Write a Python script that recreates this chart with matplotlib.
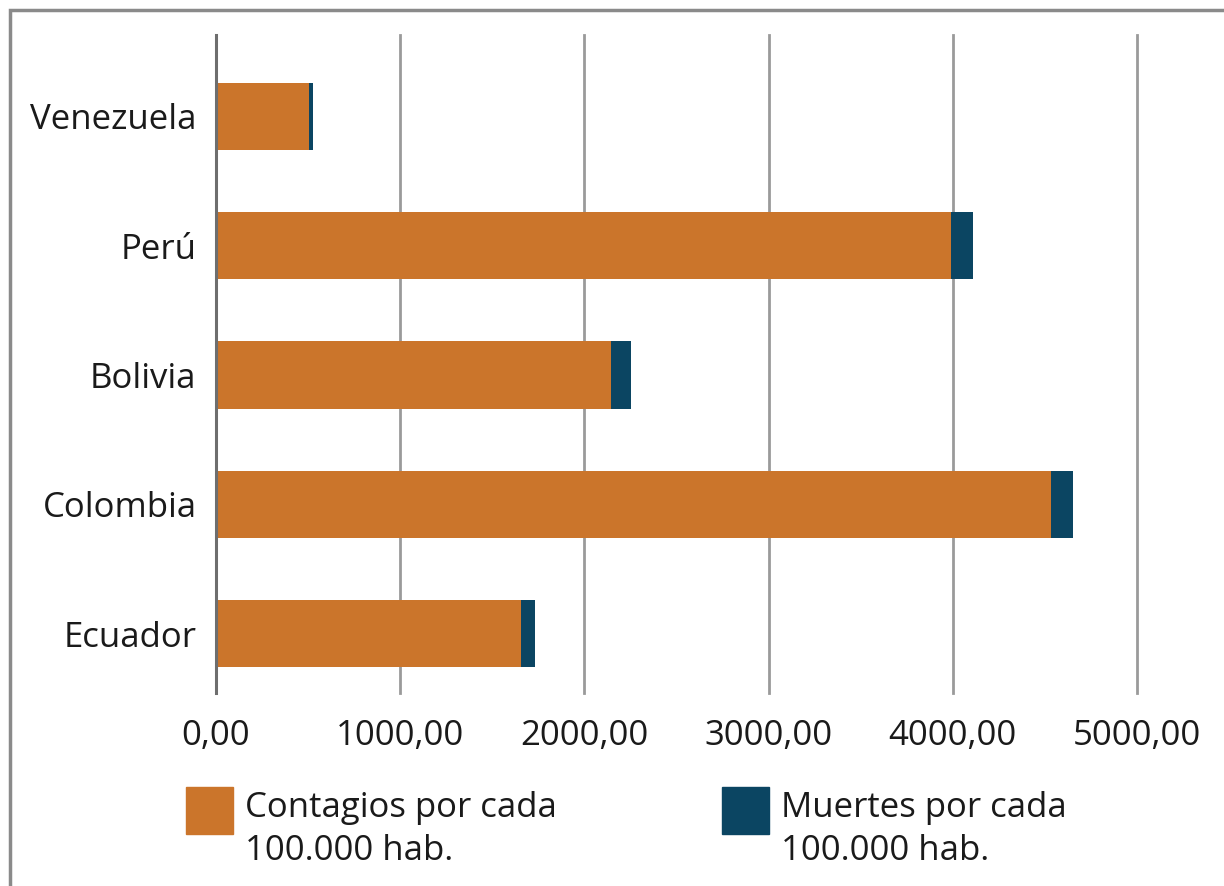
import matplotlib
matplotlib.use("Agg")
import matplotlib.pyplot as plt
from matplotlib.patches import Rectangle
from matplotlib.ticker import FuncFormatter

countries = ["Ecuador", "Colombia", "Bolivia", "Perú", "Venezuela"]
contagios = [1656, 4533, 2144, 3990, 505]
muertes = [74, 118, 107, 118, 20]
xticks = [0, 1000, 2000, 3000, 4000, 5000]
legend_labels = ["Contagios por cada\n100.000 hab.", "Muertes por cada\n100.000 hab."]

ORANGE = "#CB752B"
NAVY = "#0B4562"
TXT = "#1a1a1a"

plt.rcParams['font.family'] = ['Open Sans', 'DejaVu Sans']

W, H = 1224, 886
fig = plt.figure(figsize=(W / 100, H / 100), dpi=100)

# border
fig.patches.append(Rectangle((10 / W, -0.01), 1.2, 1 - 10 / H + 0.01, transform=fig.transFigure,
                             fill=False, edgecolor="#8a8a8a", linewidth=2.5))

ax = fig.add_axes([216 / W, 1 - 693 / H, (1137 - 216) / W, (693 - 35) / H])
y = list(range(len(countries)))
ax.barh(y, contagios, height=0.52, color=ORANGE, zorder=3)
ax.barh(y, muertes, left=contagios, height=0.52, color=NAVY, zorder=3)

ax.set_xlim(0, 5000)
ax.set_ylim(-0.46, 4.63)
ax.set_xticks(xticks)
ax.xaxis.set_major_formatter(FuncFormatter(lambda v, p: f"{v:.2f}".replace(".", ",")))
ax.set_yticks(y)
ax.set_yticklabels(countries)
ax.grid(axis="x", color="#9a9a9a", linewidth=2, zorder=0)
for gl in ax.get_xgridlines():
    gl.set_clip_on(False)
ax.axvline(0, color="#6e6e6e", linewidth=2.2, zorder=4, clip_on=False)
for s in ax.spines.values():
    s.set_visible(False)
ax.tick_params(axis="both", length=0, labelsize=25, colors=TXT)
ax.tick_params(axis="x", pad=19)
ax.tick_params(axis="y", pad=14)

# legend
for (x0, col, lab) in [(186, ORANGE, legend_labels[0]), (722, NAVY, legend_labels[1])]:
    fig.patches.append(Rectangle((x0 / W, 1 - 834 / H), 47 / W, 47 / H,
                                 transform=fig.transFigure, color=col))
    fig.text((x0 + 59) / W, 1 - 791 / H, lab, fontsize=25, color=TXT,
             va="top", ha="left", linespacing=1.36)

fig.savefig("out.png", dpi=100)
